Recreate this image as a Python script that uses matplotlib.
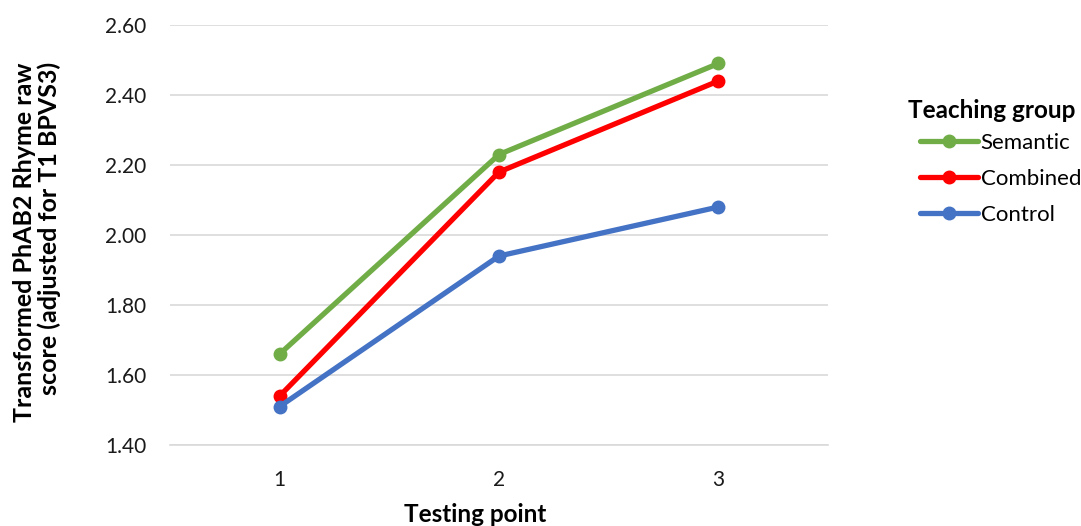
import matplotlib
matplotlib.use("Agg")
import matplotlib.pyplot as plt

plt.rcParams['font.family'] = ['Lato', 'DejaVu Sans']

testing_points = [1, 2, 3]
semantic = [1.66, 2.23, 2.49]
combined = [1.54, 2.18, 2.44]
control = [1.51, 1.94, 2.08]
y_ticks = [1.40, 1.60, 1.80, 2.00, 2.20, 2.40, 2.60]

W, H = 1081, 526
fig = plt.figure(figsize=(W / 100, H / 100), dpi=100)
ax = fig.add_axes([170 / W, 1 - 445 / H, 658 / W, 420 / H])

series = [("Semantic", semantic, "#70AD47"),
          ("Combined", combined, "#FF0000"),
          ("Control", control, "#4472C4")]
for name, vals, col in series:
    ax.plot(testing_points, vals, color=col, lw=3.8, marker='o', ms=9,
            label=name, solid_capstyle='round', zorder=3)

ax.set_xlim(0.5, 3.5)
ax.set_ylim(1.40, 2.60)
ax.set_xticks(testing_points)
ax.set_yticks(y_ticks)
ax.set_yticklabels([f"{v:.2f}" for v in y_ticks])
ax.tick_params(length=0, labelsize=15, colors="#1a1a1a")
ax.tick_params(axis='y', pad=17)
ax.tick_params(axis='x', pad=18)
ax.grid(axis='y', color="#D9D9D9", lw=1.2)
ax.set_axisbelow(True)
for s in ax.spines.values():
    s.set_visible(False)
ax.spines['bottom'].set_visible(True)
ax.spines['bottom'].set_color("#D9D9D9")
ax.spines['bottom'].set_linewidth(1.2)

fig.text(475 / W, 1 - 522 / H, "Testing point", fontsize=17.5, fontweight='bold',
         ha='center', va='baseline')
fig.text(37 / W, 1 - 62 / H, "Transformed PhAB2 Rhyme raw\nscore (adjusted for T1 BPVS3)",
         fontsize=18, fontweight='bold', rotation=90, ha='center', va='top',
         multialignment='right', linespacing=1.12)

fig.text(908 / W, 1 - 110 / H, "Teaching group", fontsize=17.5, fontweight='bold',
         ha='left', va='center')
leg = fig.legend(loc='upper left', bbox_to_anchor=(920 / W, 1 - 133 / H),
                 frameon=False, fontsize=16, borderpad=0, borderaxespad=0,
                 handlelength=2.6, handletextpad=0.13, labelspacing=0.72)

fig.savefig("out.png", dpi=100)
